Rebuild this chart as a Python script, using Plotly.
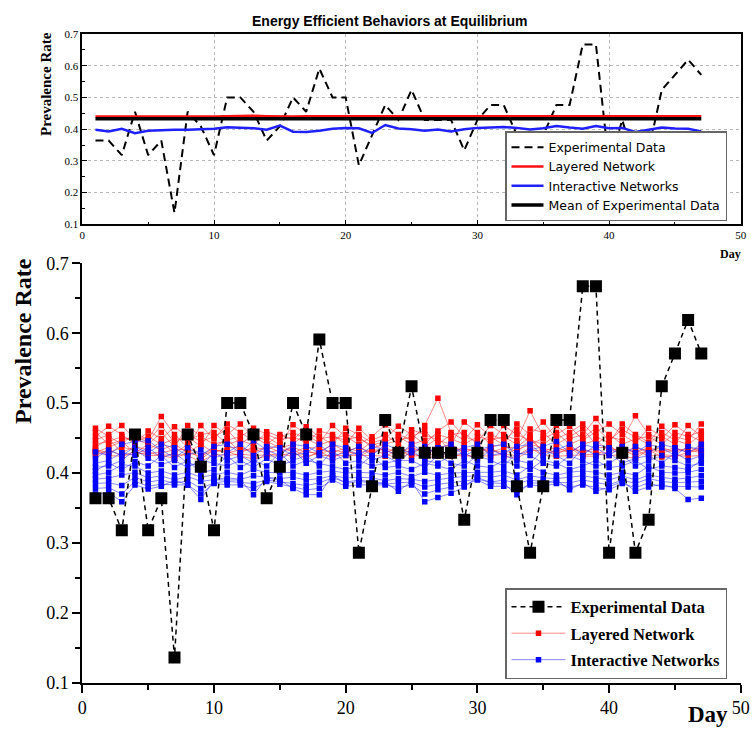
import numpy as np
import plotly.graph_objects as go

# ---------------------------------------------------------------- data
days = list(range(1, 48))

experimental = [
    0.364, 0.364, 0.318, 0.455, 0.318, 0.364, 0.136, 0.455, 0.409, 0.318,
    0.500, 0.500, 0.455, 0.364, 0.409, 0.500, 0.455, 0.591, 0.500, 0.500,
    0.286, 0.381, 0.476, 0.429, 0.524, 0.429, 0.429, 0.429, 0.333, 0.429,
    0.476, 0.476, 0.381, 0.286, 0.381, 0.476, 0.476, 0.667, 0.667, 0.286,
    0.429, 0.286, 0.333, 0.524, 0.571, 0.619, 0.571,
]

layered_mean = [
    0.440, 0.441, 0.440, 0.440, 0.441, 0.440, 0.440, 0.441, 0.440, 0.440,
    0.441, 0.441, 0.442, 0.441, 0.440, 0.440, 0.441, 0.441, 0.440, 0.440,
    0.441, 0.441, 0.440, 0.440, 0.441, 0.440, 0.440, 0.440, 0.440, 0.441,
    0.441, 0.440, 0.440, 0.441, 0.441, 0.441, 0.441, 0.441, 0.441, 0.440,
    0.440, 0.440, 0.440, 0.441, 0.441, 0.441, 0.441,
]

interactive_mean = [
    0.398, 0.393, 0.401, 0.387, 0.395, 0.397, 0.398, 0.398, 0.400, 0.401,
    0.406, 0.405, 0.403, 0.398, 0.411, 0.392, 0.391, 0.395, 0.401, 0.404,
    0.403, 0.388, 0.413, 0.402, 0.400, 0.395, 0.399, 0.393, 0.400, 0.404,
    0.406, 0.407, 0.404, 0.399, 0.403, 0.410, 0.405, 0.401, 0.410, 0.403,
    0.404, 0.391, 0.398, 0.405, 0.402, 0.401, 0.393,
]

layered_runs = [
    [0.464, 0.452, 0.441, 0.458, 0.447, 0.481, 0.455, 0.437, 0.468, 0.449,
     0.470, 0.458, 0.446, 0.452, 0.440, 0.469, 0.455, 0.443, 0.468, 0.452,
     0.441, 0.452, 0.469, 0.455, 0.447, 0.468, 0.507, 0.458, 0.447, 0.469,
     0.452, 0.440, 0.470, 0.455, 0.473, 0.449, 0.458, 0.470, 0.452, 0.443,
     0.470, 0.455, 0.444, 0.467, 0.452, 0.447, 0.470],
    [0.452, 0.467, 0.455, 0.441, 0.460, 0.449, 0.466, 0.452, 0.438, 0.468,
     0.455, 0.470, 0.452, 0.441, 0.455, 0.447, 0.466, 0.452, 0.441, 0.464,
     0.455, 0.443, 0.449, 0.467, 0.455, 0.441, 0.460, 0.473, 0.452, 0.445,
     0.468, 0.455, 0.447, 0.489, 0.452, 0.468, 0.449, 0.455, 0.478, 0.452,
     0.447, 0.482, 0.455, 0.449, 0.469, 0.455, 0.445],
    [0.447, 0.455, 0.468, 0.449, 0.441, 0.458, 0.437, 0.468, 0.452, 0.441,
     0.447, 0.452, 0.464, 0.455, 0.447, 0.452, 0.443, 0.460, 0.455, 0.441,
     0.464, 0.447, 0.455, 0.441, 0.462, 0.455, 0.447, 0.441, 0.473, 0.458,
     0.441, 0.468, 0.455, 0.447, 0.441, 0.455, 0.467, 0.447, 0.458, 0.470,
     0.455, 0.443, 0.464, 0.452, 0.441, 0.468, 0.452],
    [0.441, 0.445, 0.452, 0.445, 0.452, 0.441, 0.449, 0.447, 0.455, 0.458,
     0.441, 0.447, 0.440, 0.459, 0.452, 0.458, 0.449, 0.440, 0.447, 0.455,
     0.449, 0.440, 0.445, 0.452, 0.441, 0.447, 0.455, 0.449, 0.441, 0.452,
     0.447, 0.452, 0.441, 0.463, 0.458, 0.441, 0.452, 0.463, 0.441, 0.455,
     0.441, 0.449, 0.452, 0.441, 0.458, 0.452, 0.460],
    [0.458, 0.441, 0.447, 0.452, 0.445, 0.468, 0.443, 0.455, 0.445, 0.452,
     0.462, 0.441, 0.455, 0.445, 0.436, 0.441, 0.458, 0.449, 0.452, 0.447,
     0.452, 0.436, 0.441, 0.447, 0.452, 0.461, 0.441, 0.455, 0.458, 0.441,
     0.455, 0.447, 0.462, 0.441, 0.449, 0.458, 0.441, 0.449, 0.465, 0.447,
     0.462, 0.452, 0.441, 0.458, 0.447, 0.441, 0.455],
    [0.437, 0.449, 0.429, 0.438, 0.433, 0.445, 0.428, 0.441, 0.425, 0.436,
     0.449, 0.429, 0.437, 0.433, 0.441, 0.429, 0.437, 0.435, 0.429, 0.436,
     0.431, 0.445, 0.429, 0.437, 0.428, 0.437, 0.450, 0.431, 0.436, 0.429,
     0.437, 0.441, 0.429, 0.448, 0.431, 0.437, 0.429, 0.441, 0.447, 0.431,
     0.437, 0.429, 0.436, 0.431, 0.436, 0.429, 0.438],
    [0.429, 0.437, 0.445, 0.429, 0.441, 0.433, 0.441, 0.429, 0.441, 0.429,
     0.436, 0.437, 0.429, 0.438, 0.430, 0.437, 0.429, 0.430, 0.441, 0.431,
     0.437, 0.429, 0.436, 0.429, 0.437, 0.429, 0.436, 0.441, 0.429, 0.437,
     0.429, 0.436, 0.437, 0.452, 0.429, 0.431, 0.437, 0.429, 0.436, 0.437,
     0.429, 0.437, 0.431, 0.437, 0.429, 0.437, 0.431],
    [0.433, 0.429, 0.437, 0.433, 0.429, 0.429, 0.433, 0.434, 0.420, 0.433,
     0.429, 0.433, 0.433, 0.429, 0.433, 0.433, 0.424, 0.428, 0.433, 0.429,
     0.429, 0.433, 0.433, 0.425, 0.433, 0.433, 0.429, 0.429, 0.433, 0.433,
     0.433, 0.429, 0.433, 0.441, 0.436, 0.429, 0.433, 0.433, 0.429, 0.429,
     0.433, 0.425, 0.433, 0.429, 0.433, 0.433, 0.429],
    [0.425, 0.433, 0.425, 0.427, 0.429, 0.425, 0.427, 0.425, 0.416, 0.427,
     0.425, 0.427, 0.425, 0.426, 0.427, 0.424, 0.433, 0.425, 0.425, 0.425,
     0.426, 0.425, 0.424, 0.433, 0.424, 0.425, 0.427, 0.426, 0.424, 0.425,
     0.424, 0.427, 0.425, 0.436, 0.425, 0.424, 0.425, 0.427, 0.427, 0.425,
     0.426, 0.433, 0.424, 0.426, 0.425, 0.424, 0.425],
    [0.433, 0.425, 0.424, 0.431, 0.425, 0.425, 0.421, 0.429, 0.424, 0.433,
     0.431, 0.424, 0.420, 0.424, 0.425, 0.429, 0.421, 0.431, 0.421, 0.433,
     0.424, 0.433, 0.427, 0.421, 0.429, 0.421, 0.424, 0.424, 0.427, 0.421,
     0.436, 0.424, 0.421, 0.432, 0.433, 0.427, 0.436, 0.424, 0.424, 0.441,
     0.424, 0.421, 0.433, 0.423, 0.424, 0.429, 0.434],
]

interactive_runs = [
    [0.430, 0.425, 0.441, 0.445, 0.446, 0.433, 0.421, 0.436, 0.425, 0.438,
     0.441, 0.429, 0.446, 0.433, 0.425, 0.441, 0.438, 0.429, 0.441, 0.436,
     0.425, 0.438, 0.433, 0.425, 0.441, 0.429, 0.436, 0.441, 0.425, 0.433,
     0.438, 0.441, 0.425, 0.433, 0.438, 0.445, 0.429, 0.441, 0.436, 0.425,
     0.438, 0.429, 0.441, 0.436, 0.425, 0.438, 0.433],
    [0.421, 0.433, 0.425, 0.437, 0.429, 0.441, 0.436, 0.425, 0.433, 0.421,
     0.429, 0.441, 0.425, 0.438, 0.436, 0.425, 0.429, 0.441, 0.425, 0.429,
     0.438, 0.425, 0.441, 0.433, 0.429, 0.438, 0.425, 0.429, 0.436, 0.441,
     0.425, 0.429, 0.438, 0.441, 0.425, 0.433, 0.441, 0.425, 0.441, 0.436,
     0.425, 0.438, 0.429, 0.441, 0.436, 0.429, 0.441],
    [0.414, 0.418, 0.429, 0.425, 0.437, 0.421, 0.429, 0.414, 0.410, 0.429,
     0.418, 0.425, 0.414, 0.429, 0.418, 0.433, 0.414, 0.425, 0.418, 0.425,
     0.429, 0.418, 0.425, 0.414, 0.433, 0.418, 0.414, 0.425, 0.429, 0.418,
     0.433, 0.425, 0.418, 0.414, 0.433, 0.425, 0.414, 0.436, 0.425, 0.429,
     0.414, 0.421, 0.425, 0.414, 0.429, 0.418, 0.425],
    [0.408, 0.410, 0.418, 0.433, 0.421, 0.412, 0.418, 0.408, 0.418, 0.414,
     0.410, 0.418, 0.408, 0.421, 0.410, 0.418, 0.425, 0.410, 0.433, 0.414,
     0.418, 0.410, 0.414, 0.418, 0.418, 0.408, 0.425, 0.414, 0.410, 0.425,
     0.418, 0.410, 0.429, 0.425, 0.414, 0.410, 0.425, 0.418, 0.410, 0.414,
     0.425, 0.410, 0.418, 0.425, 0.418, 0.410, 0.414],
    [0.403, 0.414, 0.405, 0.416, 0.410, 0.425, 0.408, 0.418, 0.400, 0.405,
     0.425, 0.408, 0.418, 0.410, 0.429, 0.410, 0.418, 0.414, 0.410, 0.405,
     0.410, 0.425, 0.408, 0.410, 0.405, 0.414, 0.410, 0.405, 0.418, 0.410,
     0.408, 0.418, 0.410, 0.405, 0.418, 0.414, 0.405, 0.410, 0.418, 0.408,
     0.410, 0.418, 0.405, 0.410, 0.408, 0.405, 0.418],
    [0.397, 0.401, 0.412, 0.410, 0.400, 0.403, 0.397, 0.401, 0.394, 0.397,
     0.401, 0.397, 0.405, 0.401, 0.400, 0.401, 0.397, 0.401, 0.403, 0.400,
     0.401, 0.400, 0.397, 0.401, 0.395, 0.401, 0.397, 0.400, 0.401, 0.401,
     0.401, 0.403, 0.397, 0.410, 0.401, 0.397, 0.401, 0.403, 0.401, 0.397,
     0.401, 0.397, 0.410, 0.401, 0.400, 0.401, 0.405],
    [0.391, 0.393, 0.397, 0.401, 0.393, 0.396, 0.390, 0.395, 0.388, 0.391,
     0.393, 0.391, 0.396, 0.394, 0.392, 0.394, 0.390, 0.392, 0.396, 0.393,
     0.394, 0.393, 0.389, 0.392, 0.391, 0.388, 0.391, 0.393, 0.395, 0.396,
     0.394, 0.397, 0.390, 0.396, 0.393, 0.392, 0.394, 0.396, 0.393, 0.390,
     0.396, 0.390, 0.397, 0.394, 0.391, 0.393, 0.396],
    [0.385, 0.386, 0.382, 0.394, 0.387, 0.390, 0.385, 0.389, 0.378, 0.386,
     0.388, 0.386, 0.385, 0.390, 0.388, 0.385, 0.382, 0.386, 0.393, 0.387,
     0.390, 0.387, 0.384, 0.386, 0.387, 0.380, 0.384, 0.386, 0.388, 0.391,
     0.387, 0.390, 0.385, 0.390, 0.387, 0.386, 0.386, 0.390, 0.386, 0.383,
     0.390, 0.385, 0.392, 0.388, 0.386, 0.387, 0.388],
    [0.378, 0.379, 0.370, 0.388, 0.381, 0.384, 0.383, 0.383, 0.370, 0.385,
     0.383, 0.383, 0.378, 0.388, 0.384, 0.380, 0.376, 0.378, 0.390, 0.381,
     0.383, 0.383, 0.383, 0.379, 0.383, 0.370, 0.376, 0.380, 0.383, 0.390,
     0.381, 0.381, 0.376, 0.383, 0.381, 0.385, 0.380, 0.383, 0.379, 0.376,
     0.385, 0.379, 0.386, 0.380, 0.381, 0.380, 0.380],
    [0.370, 0.372, 0.359, 0.383, 0.377, 0.381, 0.390, 0.383, 0.362, 0.390,
     0.390, 0.390, 0.369, 0.393, 0.390, 0.378, 0.369, 0.369, 0.397, 0.385,
     0.388, 0.386, 0.386, 0.374, 0.388, 0.359, 0.365, 0.371, 0.380, 0.394,
     0.386, 0.385, 0.369, 0.386, 0.385, 0.390, 0.376, 0.386, 0.374, 0.380,
     0.388, 0.374, 0.380, 0.384, 0.378, 0.362, 0.364],
]

experimental_mean = float(np.mean(experimental))

# ---------------------------------------------------------------- styling
W, H = 752, 729
SERIF = "Liberation Serif"
SANS = "DejaVu Sans"


def px(x):
    return x / W


def py(y):
    return 1 - y / H


fig = go.Figure()

# ---- upper panel: averaged curves
fig.add_trace(go.Scatter(
    x=days, y=experimental, mode="lines", name="Experimental Data",
    line=dict(color="black", width=2, dash="8px,5px"),
    xaxis="x", yaxis="y", legend="legend"))
fig.add_trace(go.Scatter(
    x=days, y=layered_mean, mode="lines", name="Layered Network",
    line=dict(color="#ff1010", width=2.5),
    xaxis="x", yaxis="y", legend="legend"))
fig.add_trace(go.Scatter(
    x=days, y=interactive_mean, mode="lines", name="Interactive Networks",
    line=dict(color="#2020ff", width=2.5),
    xaxis="x", yaxis="y", legend="legend"))
fig.add_trace(go.Scatter(
    x=days, y=[experimental_mean] * len(days), mode="lines",
    name="Mean of Experimental Data",
    line=dict(color="black", width=3.5),
    xaxis="x", yaxis="y", legend="legend"))

# ---- lower panel: individual simulation runs
for i, run in enumerate(layered_runs):
    fig.add_trace(go.Scatter(
        x=days, y=run, mode="lines+markers", name="Layered Network",
        line=dict(color="rgba(255,40,40,0.55)", width=1),
        marker=dict(symbol="square", size=5.5, color="#ff0000"),
        legendgroup="layered", legendrank=2, showlegend=(i == 0),
        xaxis="x2", yaxis="y2", legend="legend2"))
for i, run in enumerate(interactive_runs):
    fig.add_trace(go.Scatter(
        x=days, y=run, mode="lines+markers", name="Interactive Networks",
        line=dict(color="rgba(40,40,255,0.55)", width=1),
        marker=dict(symbol="square", size=5.5, color="#0000ff"),
        legendgroup="interactive", legendrank=3, showlegend=(i == 0),
        xaxis="x2", yaxis="y2", legend="legend2"))
fig.add_trace(go.Scatter(
    x=days, y=experimental, mode="lines+markers", name="Experimental Data",
    line=dict(color="black", width=1.5, dash="5px,4px"),
    marker=dict(symbol="square", size=12, color="black"),
    legendgroup="exp", legendrank=1,
    xaxis="x2", yaxis="y2", legend="legend2"))

x_dom = [px(82.3), px(740.8)]

top_axis = dict(
    showline=True, linecolor="black", linewidth=1.5, mirror=True,
    ticks="inside", ticklen=5, tickwidth=1, tickcolor="black",
    showgrid=True, gridcolor="#b8b8b8", griddash="dot", gridwidth=1,
    zeroline=False, tickfont=dict(family=SERIF, size=11, color="black"),
    automargin=False,
)
bottom_axis = dict(
    showline=True, linecolor="black", linewidth=2, mirror=False,
    ticks="outside", ticklen=8, tickwidth=2, tickcolor="black",
    showgrid=False, zeroline=False,
    tickfont=dict(family=SERIF, size=18, color="black"),
    automargin=False,
)

fig.update_layout(
    width=W, height=H,
    margin=dict(l=0, r=0, t=0, b=0),
    paper_bgcolor="white", plot_bgcolor="white",
    xaxis=dict(domain=x_dom, anchor="y", range=[0, 50], dtick=10, tick0=0,
               minor=dict(ticks="inside", ticklen=3, dtick=5, tickcolor="black"),
               **top_axis),
    yaxis=dict(domain=[py(224.3), py(34)], anchor="x", range=[0.1, 0.7],
               dtick=0.1, tick0=0.1, tickformat=".1f",
               minor=dict(ticks="inside", ticklen=3, dtick=0.05, tickcolor="black"),
               **top_axis),
    xaxis2=dict(domain=x_dom, anchor="y2", range=[0, 50], dtick=10, tick0=0,
                minor=dict(ticks="outside", ticklen=5, tickwidth=2, dtick=5,
                           tickcolor="black"),
                **bottom_axis),
    yaxis2=dict(domain=[py(682.7), py(263.3)], anchor="x2", range=[0.1, 0.7],
                dtick=0.1, tick0=0.1, tickformat=".1f",
                minor=dict(ticks="outside", ticklen=5, tickwidth=2, dtick=0.05,
                           tickcolor="black"),
                **bottom_axis),
    legend=dict(
        x=px(505), y=py(221), xanchor="left", yanchor="bottom",
        bgcolor="white", bordercolor="#666666", borderwidth=1.5,
        font=dict(family=SANS, size=12.5, color="black"),
        itemwidth=32, tracegroupgap=0,
    ),
    legend2=dict(
        x=px(505), y=py(588), xanchor="left", yanchor="top",
        bgcolor="white", bordercolor="#666666", borderwidth=1.5,
        font=dict(family=SERIF, size=16.5, color="black", weight="bold"),
        itemwidth=54, traceorder="grouped", tracegroupgap=2,
    ),
    showlegend=True,
)

annotations = [
    dict(text="Energy Efficient Behaviors at Equilibrium", x=px(390), y=py(21),
         font=dict(family="Liberation Sans", size=14, color="black", weight="bold")),
    dict(text="Prevalence Rate", x=px(46), y=py(84), textangle=-90,
         font=dict(family=SERIF, size=15, color="black", weight="bold")),
    dict(text="Day", x=px(730), y=py(254),
         font=dict(family=SERIF, size=12, color="black", weight="bold")),
    dict(text="Prevalence Rate", x=px(23), y=py(341), textangle=-90,
         font=dict(family=SERIF, size=24, color="black", weight="bold")),
    dict(text="Day", x=px(708), y=py(714),
         font=dict(family=SERIF, size=23, color="black", weight="bold")),
]
for a in annotations:
    a.update(xref="paper", yref="paper", showarrow=False,
             xanchor="center", yanchor="middle")
fig.update_layout(annotations=annotations)

fig.write_html("out.html")
